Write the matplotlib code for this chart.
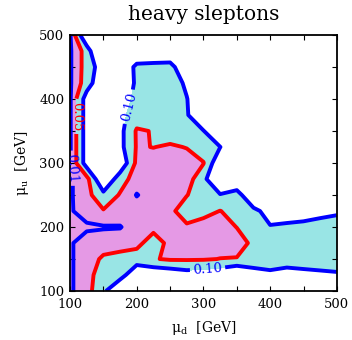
import numpy as np
import matplotlib as mpl
mpl.use('Agg')
import matplotlib.pyplot as plt
from matplotlib.ticker import MultipleLocator

plt.rcParams['font.family'] = 'DejaVu Serif'
plt.rcParams['mathtext.fontset'] = 'dejavuserif'

# ----------------------------------------------------------------------
# --- grid (GeV) and the fraction on it

mu_d = [100, 125, 150, 175, 200, 225, 250, 275, 300, 325, 350, 375, 400, 425, 450, 475, 500]
mu_u = [500, 475, 450, 425, 400, 375, 350, 325, 300, 275, 250, 225, 200, 175, 150, 125, 100]

# rows follow mu_u (top row = 500 GeV), columns follow mu_d
frac = [
    [0.005, 0.16, 0.15, 0.15, 0.15, 0.15, 0.15, 0.15, 0.15, 0.15, 0.15, 0.15, 0.15, 0.15, 0.15, 0.15, 0.15],
    [0.005, 0.07, 0.20, 0.15, 0.15, 0.15, 0.15, 0.15, 0.15, 0.15, 0.15, 0.15, 0.15, 0.15, 0.15, 0.15, 0.15],
    [0.005, 0.07, 0.13, 0.15, 0.087, 0.083, 0.08, 0.15, 0.15, 0.15, 0.15, 0.15, 0.15, 0.15, 0.15, 0.15, 0.15],
    [0.005, 0.073, 0.15, 0.15, 0.09, 0.075, 0.07, 0.11, 0.15, 0.15, 0.15, 0.15, 0.15, 0.15, 0.15, 0.15, 0.15],
    [0.005, 0.125, 0.15, 0.15, 0.075, 0.075, 0.075, 0.098, 0.15, 0.15, 0.15, 0.15, 0.15, 0.15, 0.15, 0.15, 0.15],
    [0.005, 0.125, 0.15, 0.115, 0.075, 0.075, 0.075, 0.095, 0.15, 0.15, 0.15, 0.15, 0.15, 0.15, 0.15, 0.15, 0.15],
    [0.005, 0.125, 0.15, 0.115, 0.045, 0.052, 0.075, 0.075, 0.098, 0.15, 0.15, 0.15, 0.15, 0.15, 0.15, 0.15, 0.15],
    [0.005, 0.125, 0.15, 0.115, 0.046, 0.051, 0.044, 0.052, 0.075, 0.099, 0.15, 0.15, 0.15, 0.15, 0.15, 0.15, 0.15],
    [0.005, 0.125, 0.15, 0.143, 0.039, 0.03, 0.03, 0.03, 0.048, 0.145, 0.15, 0.15, 0.15, 0.15, 0.15, 0.15, 0.15],
    [0.005, 0.035, 0.156, 0.07, 0.03, 0.03, 0.03, 0.03, 0.082, 0.18, 0.15, 0.15, 0.15, 0.15, 0.15, 0.15, 0.15],
    [0.005, 0.035, 0.085, 0.046, 0.008, 0.03, 0.03, 0.047, 0.095, 0.095, 0.078, 0.15, 0.15, 0.15, 0.15, 0.15, 0.15],
    [0.005, 0.03, 0.046, 0.03, 0.03, 0.03, 0.03, 0.095, 0.066, 0.049, 0.065, 0.087, 0.12, 0.145, 0.136, 0.116, 0.107],
    [0.005, 0.0026, 0.0066, 0.008, 0.03, 0.03, 0.048, 0.037, 0.03, 0.03, 0.051, 0.075, 0.097, 0.085, 0.08, 0.08, 0.08],
    [0.005, 0.03, 0.03, 0.03, 0.03, 0.085, 0.03, 0.03, 0.03, 0.03, 0.03, 0.06, 0.075, 0.075, 0.075, 0.075, 0.075],
    [0.005, 0.03, 0.057, 0.067, 0.085, 0.053, 0.045, 0.045, 0.046, 0.051, 0.0525, 0.075, 0.075, 0.075, 0.075, 0.075, 0.075],
    [0.005, 0.03, 0.079, 0.087, 0.125, 0.145, 0.137, 0.124, 0.128, 0.1385, 0.165, 0.12, 0.111, 0.122, 0.115, 0.11, 0.106],
    [0.005, 0.03, 0.094, 0.133, 0.15, 0.15, 0.15, 0.15, 0.15, 0.15, 0.15, 0.15, 0.15, 0.15, 0.15, 0.15, 0.15],
]

line_levels = [0.01, 0.05, 0.10]
fill_levels = [-1.0, 0.05, 0.10]

# where the contour labels sit (mu_d, mu_u): 0.10, 0.10, 0.05, 0.01
label_pos = [(191, 387), (306, 136), (112, 373), (103, 292)]

# ----------------------------------------------------------------------

Z = np.array(frac)[::-1]
y = np.array(mu_u)[::-1]

fig = plt.figure(figsize=(3.52, 3.40), dpi=100)
ax = fig.add_axes([0.199, 0.144, 0.758, 0.753])

ax.contourf(mu_d, y, Z, levels=fill_levels, colors=['#e599e5', '#99e5e5'])
cs = ax.contour(mu_d, y, Z, levels=line_levels, colors=['b', 'r', 'b'], linewidths=2.8)

ax.clabel(cs, manual=label_pos, fmt='%.2f', fontsize=9.5, inline_spacing=3)

ax.set_xlim(100, 500)
ax.set_ylim(100, 500)

ax.xaxis.set_major_locator(MultipleLocator(100))
ax.yaxis.set_major_locator(MultipleLocator(100))
ax.xaxis.set_minor_locator(MultipleLocator(50))
ax.yaxis.set_minor_locator(MultipleLocator(50))
ax.tick_params(which='both', direction='in', top=True, right=True, length=3.6, width=0.8, labelsize=9.5)
ax.tick_params(axis='x', pad=5)
ax.tick_params(axis='y', pad=4)
for s in ax.spines.values():
    s.set_linewidth(1.3)

ax.set_xlabel(r'μ$_\mathrm{d}$  [GeV]', fontsize=10, labelpad=6)
ax.set_ylabel(r'μ$_\mathrm{u}$  [GeV]', fontsize=10, labelpad=6)
ax.set_title('heavy sleptons', fontsize=14.5, pad=11)

fig.savefig('out.png', dpi=100)
